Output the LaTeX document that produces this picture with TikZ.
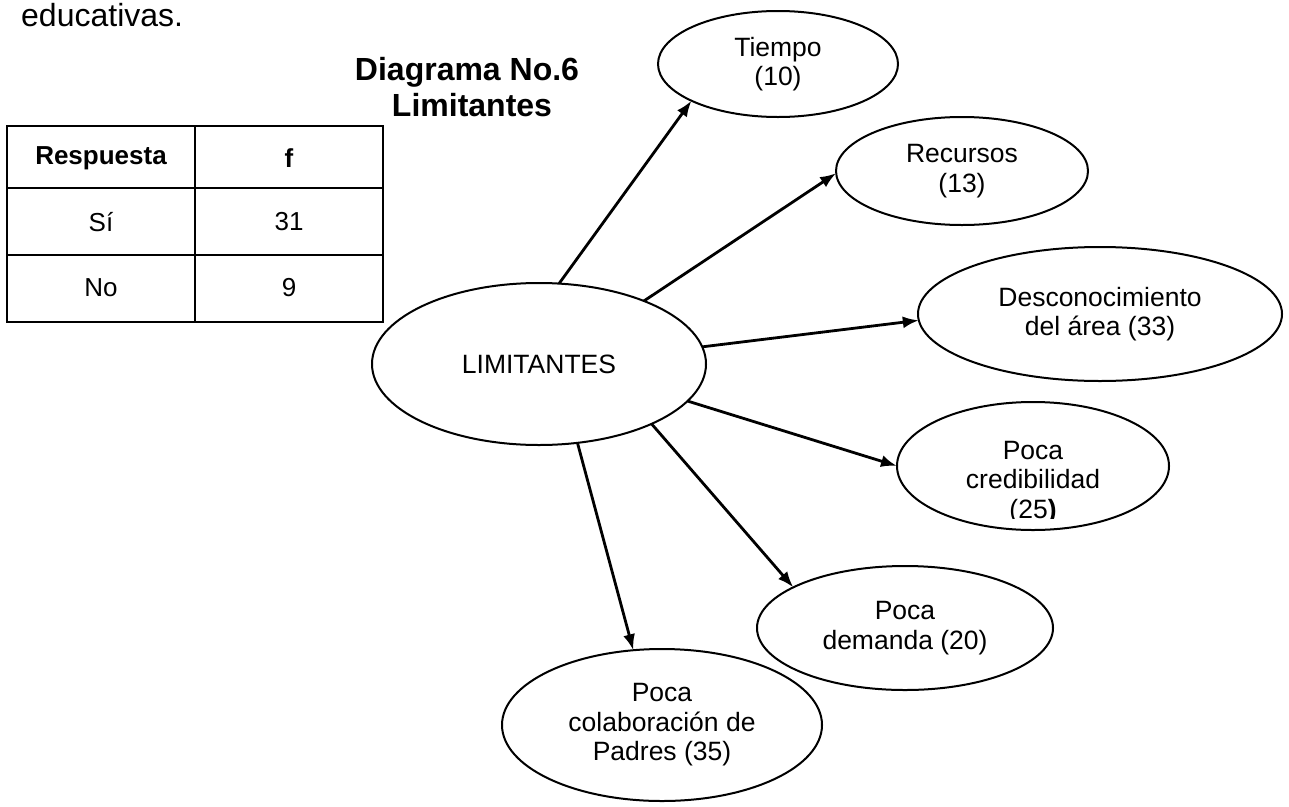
\documentclass[tikz,border=0pt]{standalone}
\usepackage{fontspec}
\setmainfont{Liberation Sans}
\usetikzlibrary{shapes.geometric,arrows.meta}
\tikzset{
  causa/.style={ellipse, draw, line width=2pt, inner sep=0pt, outer sep=0pt, align=center, font=\fontsize{26.5}{29.5}\selectfont},
  celda/.style={inner sep=0pt, font=\fontsize{26}{30}\selectfont},
  cabeza/.style={inner sep=0pt, font=\bfseries\fontsize{26}{30}\selectfont},
  titulo/.style={anchor=base, inner sep=0pt, font=\bfseries\fontsize{32}{35}\selectfont},
  flecha/.style={->, line width=2.8pt},
}

\begin{document}
\begin{tikzpicture}[>={Latex[length=16pt,width=12pt]}, x=1pt, y=-1pt]
\useasboundingbox (0,0) rectangle (1289,806);
% texto y titulo
\node[anchor=base west, inner sep=0pt, font=\fontsize{32}{36}\selectfont] (educ) at (21,26) {educativas.};
\node[titulo] (tit1) at (467,80) {Diagrama No.6};
\node[titulo] (tit2) at (472,116) {Limitantes};
% tabla
\draw[line width=2.2pt] (7,126) rectangle (383,322);
\draw[line width=2.2pt] (195,126) -- (195,322) (7,188) -- (383,188) (7,255) -- (383,255);
\node[cabeza] (resp) at (101,158) {Respuesta};
\node[cabeza] (frec) at (289,158) {f};
\node[celda] (si) at (101,222) {Sí};
\node[celda] (nsi) at (289,222) {31};
\node[celda] (no) at (101,288) {No};
\node[celda] (nno) at (289,288) {9};
% elipses
\node[causa, minimum width=334, minimum height=162] (lim) at (539,364) {LIMITANTES};
\node[causa, minimum width=240, minimum height=106] (tiempo) at (778,64) {Tiempo\\(10)};
\node[causa, minimum width=252, minimum height=108] (recursos) at (962,171) {Recursos\\(13)};
\node[causa, minimum width=364, minimum height=134] (descon) at (1100,314) {Desconocimiento\\del área (33)\\[-24pt]};
\node[causa, minimum width=272, minimum height=128] (credib) at (1033,466) {};
\begin{scope}
\clip (897,400) rectangle (1172,518);
\node[anchor=north, inner sep=0pt, align=center, font=\fontsize{26.5}{29.5}\selectfont] (credtxt) at (1033,441) {Poca\\credibilidad\\(25\textbf{)}};
\end{scope}
\node[causa, minimum width=296, minimum height=124] (demanda) at (905,628) {Poca\\demanda (20)};
\node[causa, minimum width=320, minimum height=152] (colab) at (662,725) {Poca\\colaboración de\\Padres (35)};
% flechas
\draw[flecha] (lim.76) -- (tiempo.203);
\draw[flecha] (lim.31) -- (recursos.181);
\draw[flecha] (lim.6) -- (descon.182);
\draw[flecha] (lim.-14) -- (credib.180);
\draw[flecha] (lim.-28) -- (demanda.160);
\draw[flecha] (lim.-64) -- (colab.111);
\end{tikzpicture}
\end{document}
